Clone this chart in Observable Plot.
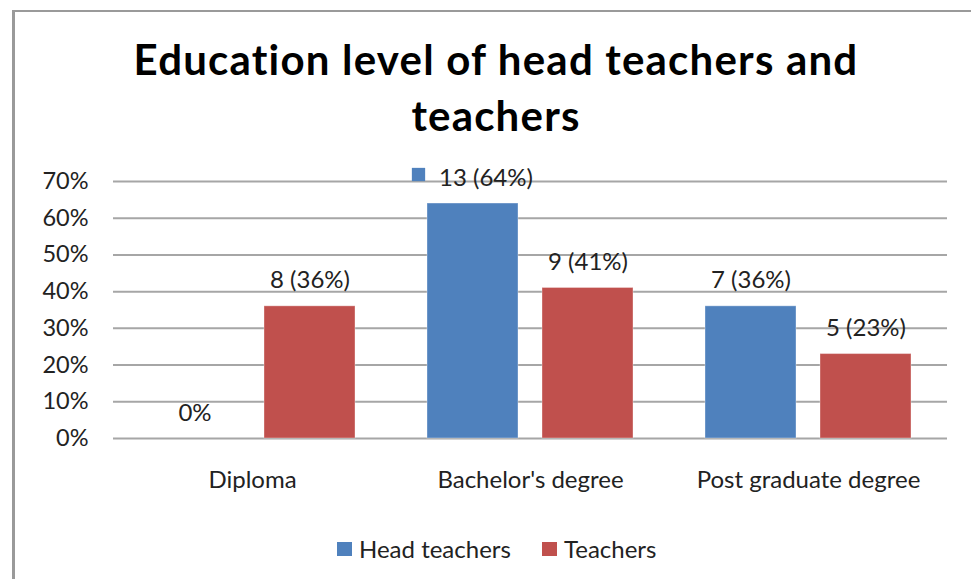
<!DOCTYPE html>
<html>
<head>
<meta charset="utf-8">
<script src="https://cdn.jsdelivr.net/npm/d3@7"></script>
<script src="https://cdn.jsdelivr.net/npm/@observablehq/plot@0.6"></script>
<style>
  html, body { margin: 0; padding: 0; background: #fff; }
  #page { position: relative; width: 971px; height: 579px; overflow: hidden; background: #fff; }
  #frame { position: absolute; left: 12px; top: 10px; width: 970px; height: 580px;
           border-left: 3px solid #9a9a9a; border-top: 2px solid #9a9a9a; box-sizing: border-box; }
  #title { position: absolute; left: 0; top: 31px; width: 992px; text-align: center;
           font-family: Lato, sans-serif; font-weight: bold; font-size: 42px; letter-spacing: 1.2px;
           line-height: 56px; color: #000; }
  #chart { position: absolute; left: 0; top: 150px; }
  #legend { position: absolute; top: 535px; left: 0; width: 971px; font-family: Lato, sans-serif;
            font-size: 24px; color: #222; }
  .key { position: absolute; top: 7px; width: 15px; height: 14px; }
  .lab { position: absolute; top: 0; line-height: 28px; }
</style>
</head>
<body>
<div id="page">
  <div id="frame"></div>
  <div id="title">Education level of head teachers and<br>teachers</div>
  <div id="chart"></div>
  <div id="legend"></div>
</div>
<script>
const categories = ["Diploma", "Bachelor's degree", "Post graduate degree"];
const series = ["Head teachers", "Teachers"];
const headValues = [0, 0.64, 0.36];
const teacherValues = [0.36, 0.41, 0.23];
const headLabels = ["0%", "13 (64%)", "7 (36%)"];
const teacherLabels = ["8 (36%)", "9 (41%)", "5 (23%)"];
const headLabelHasKey = [false, true, false];
const yTicks = [0, 0.1, 0.2, 0.3, 0.4, 0.5, 0.6, 0.7];
const colors = ["#4F81BD", "#C0504D"];

const data = [];
categories.forEach((c, i) => {
  data.push({cat: c, series: series[0], value: headValues[i], label: headLabels[i], key: headLabelHasKey[i]});
  data.push({cat: c, series: series[1], value: teacherValues[i], label: teacherLabels[i], key: false});
});
const plain = data.filter(d => !d.key);
const keyed = data.filter(d => d.key);

const chart = Plot.plot({
  width: 971,
  height: 360,
  marginLeft: 113,
  marginRight: 24,
  marginTop: 31,
  marginBottom: 72,
  style: {fontFamily: "Lato, sans-serif", background: "transparent", overflow: "visible"},
  fx: {domain: categories, padding: 0, label: null},
  x: {domain: series, paddingInner: 0.2087, paddingOuter: 0.3129, axis: null},
  y: {domain: [0, 0.7], label: null},
  color: {domain: series, range: colors},
  marks: [
    Plot.gridY(yTicks, {stroke: "#a6a6a6", strokeOpacity: 1, strokeWidth: 2}),
    Plot.axisY(yTicks, {tickSize: 0, tickPadding: 25, tickFormat: d3.format(".0%"), fontSize: 23.5, fill: "#222", label: null}),
    Plot.axisFx({anchor: "bottom", tickSize: 0, tickPadding: 32, fontSize: 24, fill: "#222", label: null}),
    Plot.barY(data, {fx: "cat", x: "series", y: "value", fill: "series", stroke: "#ffffff", strokeOpacity: 0.35, strokeWidth: 1}),
    Plot.text(plain, {fx: "cat", x: "series", y: "value", text: "label", dy: -18, lineAnchor: "bottom", fontSize: 24, fill: "#222"}),
    Plot.text(keyed, {fx: "cat", x: "series", y: "value", text: "label", dy: -18, dx: 13, lineAnchor: "bottom", fontSize: 24, fill: "#222"}),
    Plot.dot(keyed, {fx: "cat", x: "series", y: 0.7, symbol: "square", r: 7.5, fill: colors[0], dx: -54.5, dy: -7})
  ]
});
document.getElementById("chart").appendChild(chart);

const legend = document.getElementById("legend");
const keyLefts = [337, 542];
series.forEach((s, i) => {
  const k = document.createElement("div");
  k.className = "key";
  k.style.left = keyLefts[i] + "px";
  k.style.background = colors[i];
  legend.appendChild(k);
  const t = document.createElement("div");
  t.className = "lab";
  t.style.left = (keyLefts[i] + 22) + "px";
  t.textContent = s;
  legend.appendChild(t);
});
</script>
</body>
</html>
